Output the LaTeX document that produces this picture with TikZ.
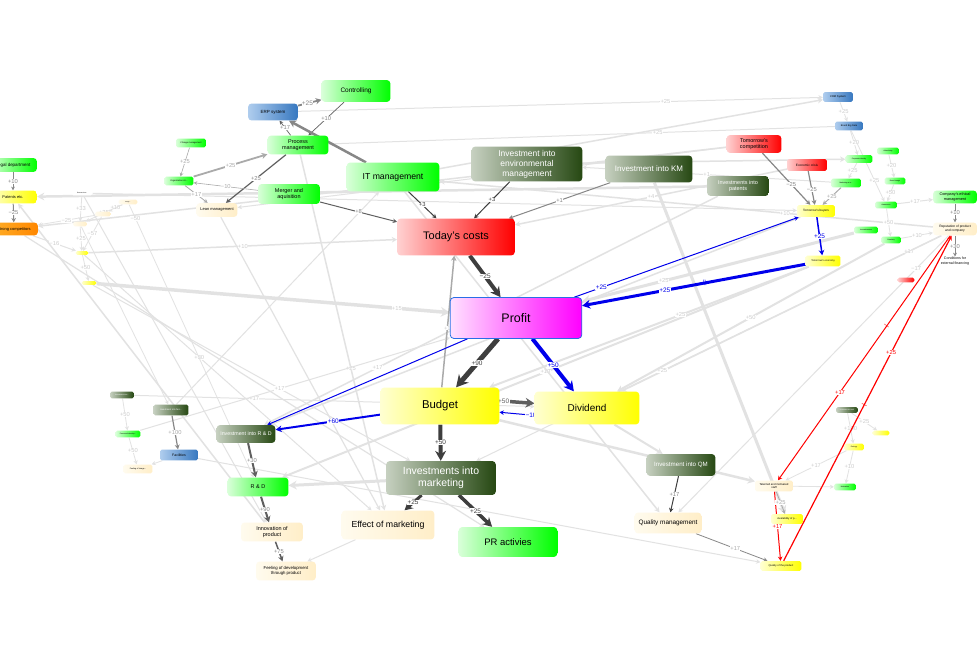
\documentclass[tikz,border=0pt]{standalone}
\usepackage{fontspec}
\setmainfont{Liberation Sans}
\usetikzlibrary{arrows.meta}
\pgfdeclarelayer{paper}
\pgfdeclarelayer{bgl}
\pgfdeclarelayer{bgd}
\pgfsetlayers{paper,bgl,bgd,main}
\newcommand\myfs[2]{\fontsize{#1}{#2}\selectfont}
\definecolor{dgl}{RGB}{198,208,192}
\definecolor{dgd}{RGB}{38,72,18}
\definecolor{cream1}{RGB}{255,251,238}
\definecolor{cream2}{RGB}{255,238,200}
\definecolor{blue1}{RGB}{175,205,238}
\definecolor{blue2}{RGB}{55,120,192}
\definecolor{or1}{RGB}{255,175,40}
\definecolor{or2}{RGB}{255,135,0}
\definecolor{k1}{RGB}{62,62,62}
\definecolor{k2}{RGB}{95,95,95}
\definecolor{k3}{RGB}{135,135,135}
\definecolor{k4}{RGB}{170,170,170}
\definecolor{lgray}{RGB}{226,226,226}
\definecolor{lgl}{RGB}{205,205,205}
\definecolor{profb}{RGB}{40,110,230}
\definecolor{bl}{RGB}{0,0,235}
\begin{document}
\begin{tikzpicture}[x=1bp,y=-1bp,
  bx/.style={rounded corners=3.5, align=center, inner sep=0.5, text=black},
  px/.style={rounded corners=1.8, align=center, inner sep=0.3, text=black},
  gfill/.style={left color=green!15!white, right color=green},
  dgfill/.style={left color=dgl, right color=dgd, text=white},
  rfill/.style={left color=red!18!white, right color=red},
  mfill/.style={left color=magenta!12!white, right color=magenta},
  yfill/.style={left color=yellow!18!white, right color=yellow},
  cfill/.style={left color=cream1, right color=cream2},
  bfill/.style={left color=blue1, right color=blue2},
  ofill/.style={left color=or1, right color=or2},
  arr/.style={-{Stealth[length=2.4bp 1.9, width=2.4bp 2.1]}},
  lb/.style={font=\myfs{6.5}{7}, fill=white, inner sep=0.4, text=#1},
  lb/.default=k2,
  sl/.style={font=\myfs{5.8}{6.2}, fill=white, inner sep=0.3, text=#1},
  sl/.default=k3,
  ll/.style={font=\myfs{5.8}{6.2}, fill=white, inner sep=0.3, text=lgl},
  le/.style={arr, draw=lgray, line width=#1},
  le/.default=1,
  tick/.style={sloped, inner sep=0, font=\myfs{6}{6}, text=#1}
]
\useasboundingbox (0,0) rectangle (980,652);
\begin{pgfonlayer}{paper}
\fill[white] (0,0) rectangle (980,652);
\end{pgfonlayer}

% ---------- main nodes ----------
\node[bx,gfill,minimum width=69,minimum height=22,font=\myfs{6.5}{7.8}] (ctrl) at (356,91) {Controlling};
\node[bx,bfill,minimum width=50,minimum height=17,font=\myfs{4.5}{5.4}] (erp) at (273,112) {ERP system};
\node[bx,gfill,minimum width=61,minimum height=19,font=\myfs{5.5}{6.6}] (proc) at (298,145) {Process\\management};
\node[bx,gfill,minimum width=62,minimum height=20,font=\myfs{5.5}{6.6}] (merger) at (289,194) {Merger and\\aquisition};
\node[bx,cfill,minimum width=41,minimum height=14,font=\myfs{4}{5}] (lean) at (217,210) {Lean management};
\node[px,gfill,minimum width=30,minimum height=9,font=\myfs{2.2}{2.6}] (chg) at (191,143) {Change management};
\node[px,gfill,minimum width=29,minimum height=9,font=\myfs{2.2}{2.6}] (org) at (179,181) {Organization str...};
\node[bx,gfill,minimum width=93,minimum height=29,font=\myfs{8.7}{10}] (itm) at (393,177) {IT management};
\node[bx,dgfill,minimum width=111,minimum height=35,font=\myfs{8.5}{10}] (env) at (527,164) {Investment into\\environmental\\management};
\node[bx,dgfill,minimum width=87,minimum height=27,font=\myfs{8}{9.6}] (km) at (649,169) {Investment into KM};
\node[bx,rfill,minimum width=118,minimum height=37,font=\myfs{11}{13}] (costs) at (456,237) {Today's costs};
\node[bx,mfill,draw=profb,line width=0.8,minimum width=132,minimum height=41,font=\myfs{12.5}{15}] (profit) at (516,318) {Profit};
\node[bx,yfill,minimum width=119,minimum height=37,font=\myfs{11.4}{13.5}] (budget) at (440,406) {Budget};
\node[bx,yfill,minimum width=105,minimum height=33,font=\myfs{10}{12}] (divid) at (587,408) {Dividend};
\node[bx,dgfill,minimum width=110,minimum height=34,font=\myfs{10.5}{12.4}] (invmkt) at (441,478) {Investments into\\marketing};
\node[bx,cfill,minimum width=93,minimum height=29,font=\myfs{8.8}{10.5}] (effect) at (388,525) {Effect of marketing};
\node[bx,gfill,minimum width=99,minimum height=30,font=\myfs{9.5}{11}] (pr) at (508,542) {PR activies};
\node[bx,dgfill,minimum width=59,minimum height=18,font=\myfs{5.3}{6.4}] (invrd) at (246,434) {Investment into R \& D};
\node[bx,gfill,minimum width=61,minimum height=19,font=\myfs{5.5}{6.6}] (rd) at (258,487) {R \& D};
\node[bx,cfill,minimum width=62,minimum height=19,font=\myfs{5.5}{6.4}] (innov) at (272,532) {Innovation of\\product};
\node[bx,cfill,minimum width=60,minimum height=19,font=\myfs{4.3}{5.6}] (feel) at (286,571) {Feeling of development\\through product};
\node[px,bfill,minimum width=38,minimum height=11,font=\myfs{3.5}{4}] (facil) at (179,455) {Facilities};
\node[px,dgfill,minimum width=35,minimum height=11,font=\myfs{2.3}{2.8}] (invfac) at (171,410) {Investment into faci...};
\node[px,dgfill,minimum width=24,minimum height=7,font=\myfs{1.8}{2}] (dg1) at (122,395) {Investment into...};
\node[px,gfill,minimum width=25,minimum height=7,font=\myfs{1.8}{2}] (g1) at (128,434) {Personnel develop...};
\node[px,cfill,minimum width=29,minimum height=9,font=\myfs{2}{2.4}] (cr1) at (138,469) {Feeling of image...};
\node[bx,dgfill,minimum width=69,minimum height=22,font=\myfs{6.2}{7.4}] (invqm) at (681,465) {Investment into QM};
\node[bx,cfill,minimum width=67,minimum height=21,font=\myfs{6.4}{7.6}] (qm) at (668,523) {Quality management};
\node[bx,rfill,minimum width=55,minimum height=18,font=\myfs{5.5}{6.6}] (tcomp) at (754,144) {Tomorrow's\\competition};
\node[px,rfill,minimum width=40,minimum height=12,font=\myfs{3.2}{3.8}] (crisis) at (807,165) {Economic crisis};
\node[bx,dgfill,minimum width=62,minimum height=20,font=\myfs{5.5}{6.6}] (patents) at (738,186) {Investments into\\patents};
\node[px,yfill,minimum width=38,minimum height=12,font=\myfs{3.1}{3.7}] (tbuy) at (816,211) {Tomorrow's buyers};
\node[px,yfill,minimum width=35,minimum height=11,font=\myfs{2.5}{3}] (tecon) at (823,261) {Tomorrow's economy};
\node[px,bfill,minimum width=30,minimum height=10,font=\myfs{2.7}{3.2}] (crm) at (838,97) {CRM System};
\node[px,bfill,minimum width=28,minimum height=9,font=\myfs{2.4}{2.9}] (bigdata) at (849,126) {Brand Big Data};
\node[px,gfill,minimum width=27,minimum height=8,font=\myfs{1.8}{2}] (sg1) at (859,159) {Corporate identity};
\node[px,gfill,minimum width=22,minimum height=7,font=\myfs{1.8}{2}] (sg2) at (888,151) {Advertising};
\node[px,gfill,minimum width=21,minimum height=7,font=\myfs{1.8}{2}] (sg3) at (895,181) {Brand image};
\node[px,gfill,minimum width=30,minimum height=9,font=\myfs{1.8}{2}] (mktg) at (846,183) {Marketing at a...};
\node[px,gfill,minimum width=22,minimum height=7,font=\myfs{1.8}{2}] (sg4) at (886,205) {Awareness};
\node[bx,gfill,minimum width=44,minimum height=13,font=\myfs{3.8}{4.6}] (ethic) at (955,197) {Company's ethical\\management};
\node[bx,cfill,minimum width=44,minimum height=13,font=\myfs{3.3}{4}] (reput) at (955,229) {Reputation of product\\and company};
\node[align=center,inner sep=0.5,font=\myfs{3.6}{4.4}] (finance) at (955,261) {Conditions for\\external financing};
\node[px,gfill,minimum width=24,minimum height=7,font=\myfs{1.8}{2}] (sg5) at (866,230) {Innovativeness};
\node[px,gfill,minimum width=20,minimum height=7,font=\myfs{1.8}{2}] (sg6) at (891,240) {Creativity};
\node[px,rfill,minimum width=17,minimum height=5] (redsm) at (906,280) {};
\node[px,cfill,minimum width=38,minimum height=11,font=\myfs{2.8}{3.4}] (staff) at (774,486) {Talented and motivated\\staff};
\node[px,gfill,minimum width=22,minimum height=7,font=\myfs{1.8}{2}] (sg7) at (845,487) {Motivation};
\node[px,yfill,minimum width=32,minimum height=10,font=\myfs{2.6}{3}] (avail) at (787,519) {Availability of p...};
\node[px,yfill,minimum width=41,minimum height=10,font=\myfs{2.6}{3}] (qprod) at (781,566) {Quality of the product};
\node[px,dgfill,minimum width=22,minimum height=6,font=\myfs{1.6}{1.8}] (dg2) at (847,410) {Investment into staff};
\node[px,yfill,minimum width=17,minimum height=5] (yl1) at (881,433) {};
\node[px,yfill,minimum width=20,minimum height=7,font=\myfs{1.8}{2}] (yl2) at (854,447) {Ecology};
\node[bx,gfill,minimum width=48,minimum height=14,font=\myfs{4.5}{5.4}] (legal) at (13,165) {Legal department};
\node[bx,yfill,minimum width=48,minimum height=13,font=\myfs{4}{4.8}] (patetc) at (13,197) {Patents etc.};
\node[bx,ofill,minimum width=48,minimum height=13,font=\myfs{4}{4.8}] (strong) at (14,229) {Strong competitors};
\node[px,fill=white,minimum width=21,minimum height=5,font=\myfs{1.6}{1.8}] (white1) at (82,193) {Research etc.};
\node[px,cfill,minimum width=19,minimum height=5,font=\myfs{1.5}{1.7}] (cr2) at (128,202) {Image...};
\node[px,cfill,minimum width=14,minimum height=5] (cr3) at (80,224) {};
\node[px,cfill,minimum width=16,minimum height=5] (cr4) at (103,214) {};
\node[px,yfill,minimum width=13,minimum height=4] (yl3) at (82,253) {};
\node[px,yfill,minimum width=15,minimum height=4] (yl4) at (89,283) {};

% ---------- light background connectors ----------
\begin{pgfonlayer}{bgl}
\draw[le=2.5] (patents) -- (patetc);
\draw[le=1.5] (tcomp) -- (strong);
\draw[le=1] (erp) -- node[ll,pos=.7]{+25} (crm);
\draw[le=1] (bigdata) -- node[ll,pos=.35]{+25} (proc);
\draw[le=1.5] (itm) -- (crm);
\draw[le=3.5] (yl4) -- node[ll,pos=.85]{+15} (profit);
\draw[le=1] (strong) -- node[ll]{−16} (yl3);
\draw[le=3] (invmkt) -- (rd);
\draw[le=1] (effect) -- (feel);
\draw[le=1.5] (innov) -- (patetc);
\draw[le=3] (sg5) -- node[ll,pos=.7]{+25} (profit);
\draw[le=1.5] (reput) -- node[ll,pos=.1]{+17} (divid);
\draw[le=1] (reput) -- node[ll,pos=.6]{+25} (invmkt);
\draw[le=1] (reput) -- node[ll,pos=.12]{−17} (qm);
\draw[le=2] (tecon) -- node[ll]{+10} (rd);
\draw[le=2] (tecon) -- node[ll,pos=.4]{+25} (budget);
\draw[le=2] (sg6) -- node[ll,pos=.5]{+50} (divid);
\draw[le=1.2] (lean) -- (effect);
\draw[le=1.5] (proc) -- node[ll,pos=.6]{+25} (effect);
\draw[le=1.5] (itm) -- node[ll,pos=.7]{+50} (qm);
\draw[le=3] (km) -- (avail);
\draw[le=1.5] (patents) -- node[ll,pos=.75]{+17} (invrd);
\draw[le=2.5] (budget) -- node[ll,pos=.6]{+50} (staff);
\draw[le=2] (divid) -- (invqm);
\draw[le=1] (white1) -- (tbuy);
\draw[le=1.5] (yl3) -- node[ll]{+10} (costs);
\draw[le=1] (yl3) -- node[ll,pos=.4]{+30} (effect);
\draw[le=1.2] (strong) -- (pr);
\draw[le=1] (white1) -- (innov);
\draw[le=1] (tcomp) -- (lean);
\draw[le=0.8] (cr3) -- (invfac);
\draw[le=0.8] (cr2) -- node[ll,pos=.05]{−50} (rd);
\draw[le=1] (yl4) -- (invmkt);
\draw[le=1] (dg1) -- node[ll,pos=.3]{+17} (divid);
\draw[le=1] (g1) -- node[ll,pos=.45]{+17} (profit);
\draw[le=1] (facil) -- (qprod);
\draw[le=1.5] (env) -- (sg1);
\draw[le=1.5] (tbuy) -- node[ll,pos=.5]{+50} (invrd);
\draw[le=1.5] (crisis) -- node[ll,pos=.5]{+4} (costs);
\draw[le=1] (mktg) -- node[ll,pos=.5]{+1} (env);
\draw[le=1] (invfac) -- (itm);
\draw[le=1.5] (reput) -- node[ll,pos=.3]{+10} (itm);
\draw[le=0.8] (crm) -- node[ll]{+25} (bigdata);
\draw[le=0.8] (bigdata) -- node[ll]{+20} (sg1);
\draw[le=0.8] (sg1) -- node[ll]{+25} (mktg);
\draw[le=0.8] (sg2) -- node[ll]{+20} (sg3);
\draw[le=0.8] (bigdata) -- node[ll,pos=.7]{+25} (sg4);
\draw[le=0.8] (sg3) -- node[ll]{+50} (sg4);
\draw[le=0.8] (sg4) -- node[ll]{+50} (sg6);
\draw[le=1] (sg4) -- node[ll]{+17} (ethic);
\draw[le=0.8] (sg6) -- node[ll]{+10} (reput);
\draw[le=0.8] (dg2) -- node[ll]{+25} (yl1);
\draw[le=0.8] (dg2) -- node[ll]{+100} (yl2);
\draw[le=0.8] (yl2) -- node[ll]{+10} (sg7);
\draw[le=0.8] (yl2) -- node[ll]{+17} (staff);
\draw[le=0.8] (staff) -- (sg7);
\draw[le=0.8] (cr4) -- node[ll]{−25} (strong);
\draw[le=0.8] (white1) -- node[ll]{+33} (cr3);
\draw[le=0.8] (cr2) -- node[ll]{+10} (cr4);
\draw[le=0.8] (cr2) -- node[ll]{+25} (cr3);
\draw[le=0.8] (cr3) -- node[ll]{+25} (yl3);
\draw[le=0.8] (cr4) -- node[ll]{−57} (yl3);
\draw[le=0.8] (yl3) -- node[ll]{+50} (yl4);
\draw[le=0.8] (dg1) -- node[ll]{+50} (g1);
\draw[le=0.8] (g1) -- node[ll]{+50} (cr1);
\draw[le=0.8] (facil) -- (cr1);
\end{pgfonlayer}

% ---------- highlighted connectors ----------
\begin{pgfonlayer}{bgd}
\draw[arr,line width=1.8,draw=k3] (erp) -- node[lb=k3,pos=.4]{+25} (ctrl);
\draw[arr,line width=0.7,draw=k2] (ctrl) -- node[sl]{+10} (proc);
\draw[arr,line width=0.7,draw=k2] (proc) -- node[sl]{+17} (erp);
\draw[arr,line width=2.5,draw=k3] (itm) -- (erp);
\draw[arr,line width=1.8,draw=k4] (org) -- node[sl=k4]{+25} (proc);
\draw[arr,line width=0.6,draw=k4] (chg) -- node[sl=k4]{+25} (org);
\draw[arr,line width=1.2,draw=k2] (proc) -- node[sl]{+25} (lean);
\draw[arr,line width=0.6,draw=k4] (merger) -- node[sl=k4]{−10} (org);
\draw[arr,line width=0.8,draw=k4] (org) -- node[sl=k4]{+17} (lean);
\draw[arr,line width=1,draw=k2] (merger) -- node[sl]{+8} (costs);
\draw[arr,line width=1,draw=k1] (itm) -- node[sl=k1]{+3} (costs);
\draw[arr,line width=1,draw=k1] (env) -- node[sl=k1]{+3} (costs);
\draw[arr,line width=1,draw=k3] (km) -- node[sl]{+1} (costs);
\draw[arr,line width=4,draw=k1] (costs) -- node[lb=k1]{−25} (profit);
\draw[arr,line width=5,draw=k1] (profit) -- node[lb=k1]{+90} (budget);
\draw[arr,line width=4,draw=bl] (profit) -- node[lb=bl]{+50} (divid);
\draw[arr,line width=3.5,draw=k2] (budget.5) -- node[lb=k2,pos=.12]{+50} (divid.175);
\draw[arr,line width=1,draw=bl] (divid.188) -- node[lb=bl,pos=.1]{−10} (budget.-6);
\draw[arr,line width=1.5,draw=k4] (budget) -- node[ll,pos=.45]{+1} (costs);
\draw[arr,line width=2,draw=bl] (budget) -- node[lb=bl,pos=.45]{+60} (invrd);
\draw[arr,line width=1,draw=bl] (profit) -- (invrd);
\draw[arr,line width=3,draw=bl] (tecon) -- node[tick=bl,pos=.45]{||} node[lb=bl,pos=.63]{+25} (profit);
\draw[arr,line width=1,draw=bl] (profit) -- node[lb=bl,pos=.12]{+25} (tbuy);
\draw[arr,line width=1.5,draw=bl] (tbuy) -- node[lb=bl]{+25} (tecon);
\draw[arr,line width=1.2,draw=k3] (tcomp) -- node[sl,pos=.6]{−25} (tbuy);
\draw[arr,line width=1.2,draw=k3] (crisis) -- node[sl,pos=.55]{−25} (tbuy);
\draw[arr,line width=1,draw=k4] (mktg) -- node[sl=k4]{+25} (tbuy);
\draw[arr,line width=4,draw=k1] (budget) -- node[lb=k1]{+50} (invmkt);
\draw[arr,line width=3,draw=k1] (invmkt) -- node[lb=k1]{+25} (effect);
\draw[arr,line width=3.5,draw=k1] (invmkt) -- node[lb=k1]{+25} (pr);
\draw[arr,line width=2,draw=k2] (invrd) -- node[sl]{+30} (rd);
\draw[arr,line width=2,draw=k2] (rd) -- node[sl]{+90} (innov);
\draw[arr,line width=1.5,draw=k2] (innov) -- node[sl]{+75} (feel);
\draw[arr,line width=1.2,draw=k3] (invfac) -- node[sl=k4]{+100} (facil);
\draw[arr,line width=1,draw=k1] (invqm) -- node[sl]{+17} (qm);
\draw[arr,line width=0.8,draw=k3] (qm) -- node[sl=k4,pos=.55]{+17} (qprod);
\draw[arr,line width=1,draw=red] (staff) -- node[sl=red]{+17} (qprod);
\draw[arr,line width=0.8,draw=k4] (staff) -- node[sl=k4]{+25} (avail);
\draw[arr,line width=1,draw=red] (reput) -- node[tick=red,pos=.37]{|} node[sl=red,pos=.64]{+17} (staff);
\draw[arr,line width=1.2,draw=red] (qprod) -- node[tick=red,pos=.48]{|} node[sl=red,pos=.64]{+25} (reput);
\draw[arr,line width=0.7,draw=k3] (ethic) -- node[sl]{+10} (reput);
\draw[arr,line width=0.7,draw=k3] (reput) -- node[sl]{+30} (finance);
\draw[arr,line width=0.7,draw=k3] (legal) -- node[sl]{+10} (patetc);
\draw[arr,line width=1,draw=k3] (patetc) -- node[sl]{−25} (strong);
\end{pgfonlayer}
\end{tikzpicture}
\end{document}
